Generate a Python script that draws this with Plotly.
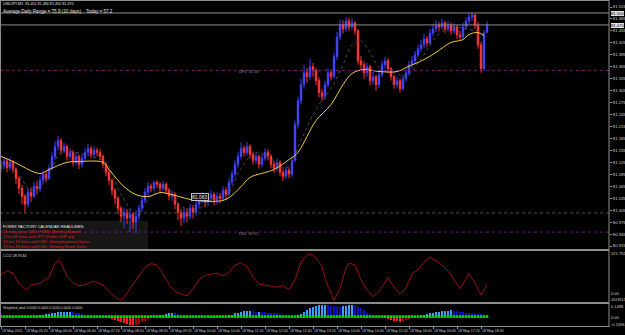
import plotly.graph_objects as go

# ---------------- data ----------------
bars = list(range(163))  # M5 bars, 18 May 2011 04:40 .. 18:10

opens = [81.110,81.118,81.128,81.112,81.125,81.108,81.085,81.060,81.040,81.020,
         81.050,81.040,81.065,81.058,81.080,81.095,81.085,81.110,81.140,81.165,
         81.180,81.155,81.165,81.140,81.150,81.125,81.140,81.120,81.135,81.150,
         81.160,81.145,81.155,81.150,81.140,81.120,81.100,81.080,81.055,81.035,
         81.010,80.990,81.000,80.985,80.995,80.975,80.990,81.010,81.030,81.050,
         81.065,81.060,81.075,81.070,81.060,81.070,81.055,81.040,81.045,81.020,
         81.000,80.985,81.000,80.990,81.010,81.000,81.020,81.030,81.040,81.025,
         81.035,81.045,81.030,81.040,81.035,81.055,81.045,81.075,81.095,81.120,
         81.140,81.160,81.150,81.165,81.145,81.130,81.140,81.120,81.135,81.150,
         81.140,81.120,81.110,81.125,81.100,81.090,81.105,81.095,81.130,81.220,
         81.280,81.320,81.350,81.340,81.365,81.355,81.330,81.300,81.290,81.320,
         81.350,81.340,81.390,81.440,81.470,81.460,81.480,81.465,81.475,81.455,
         81.380,81.370,81.350,81.365,81.330,81.340,81.320,81.345,81.370,81.380,
         81.360,81.340,81.320,81.330,81.310,81.335,81.350,81.370,81.380,81.395,
         81.410,81.420,81.435,81.425,81.450,81.460,81.470,81.465,81.475,81.460,
         81.470,81.455,81.465,81.445,81.440,81.465,81.480,81.490,81.495,81.470,
         81.420,81.360,81.451]
closes = [81.118,81.128,81.112,81.125,81.108,81.085,81.060,81.040,81.020,81.050,
          81.040,81.065,81.058,81.080,81.095,81.085,81.110,81.140,81.165,81.180,
          81.155,81.165,81.140,81.150,81.125,81.140,81.120,81.135,81.150,81.160,
          81.145,81.155,81.150,81.140,81.120,81.100,81.080,81.055,81.035,81.010,
          80.990,81.000,80.985,80.995,80.975,80.990,81.010,81.030,81.050,81.065,
          81.060,81.075,81.070,81.060,81.070,81.055,81.040,81.045,81.020,81.000,
          80.985,81.000,80.990,81.010,81.000,81.020,81.030,81.040,81.025,81.035,
          81.045,81.030,81.040,81.035,81.055,81.045,81.075,81.095,81.120,81.140,
          81.160,81.150,81.165,81.145,81.130,81.140,81.120,81.135,81.150,81.140,
          81.120,81.110,81.125,81.100,81.090,81.105,81.095,81.130,81.220,81.280,
          81.320,81.350,81.340,81.365,81.355,81.330,81.300,81.290,81.320,81.350,
          81.340,81.390,81.440,81.470,81.460,81.480,81.465,81.475,81.455,81.380,
          81.370,81.350,81.365,81.330,81.340,81.320,81.345,81.370,81.380,81.360,
          81.340,81.320,81.330,81.310,81.335,81.350,81.370,81.380,81.395,81.410,
          81.420,81.435,81.425,81.450,81.460,81.470,81.465,81.475,81.460,81.470,
          81.455,81.465,81.445,81.440,81.465,81.480,81.490,81.495,81.470,81.420,
          81.360,81.450,81.470]
highs = [81.130,81.140,81.135,81.138,81.130,81.112,81.090,81.068,81.045,81.060,
         81.062,81.075,81.078,81.090,81.105,81.102,81.120,81.150,81.178,81.192,
         81.186,81.175,81.170,81.160,81.156,81.150,81.145,81.145,81.160,81.172,
         81.166,81.165,81.162,81.158,81.145,81.125,81.108,81.085,81.060,81.040,
         81.015,81.012,81.008,81.010,81.000,81.005,81.020,81.040,81.060,81.075,
         81.072,81.078,81.080,81.076,81.078,81.075,81.060,81.055,81.050,81.025,
         81.008,81.012,81.010,81.020,81.018,81.030,81.040,81.050,81.045,81.045,
         81.055,81.050,81.050,81.048,81.065,81.062,81.085,81.105,81.130,81.150,
         81.175,81.168,81.176,81.170,81.152,81.150,81.145,81.145,81.160,81.158,
         81.146,81.128,81.135,81.130,81.108,81.115,81.112,81.140,81.230,81.290,
         81.335,81.370,81.362,81.385,81.375,81.362,81.338,81.310,81.330,81.362,
         81.358,81.400,81.452,81.484,81.482,81.490,81.488,81.486,81.480,81.460,
         81.392,81.378,81.375,81.370,81.352,81.345,81.355,81.380,81.390,81.386,
         81.365,81.345,81.340,81.335,81.345,81.360,81.380,81.392,81.405,81.420,
         81.432,81.448,81.442,81.460,81.472,81.482,81.478,81.486,81.480,81.480,
         81.476,81.474,81.470,81.455,81.475,81.490,81.500,81.502,81.498,81.478,
         81.428,81.458,81.480]
lows = [81.100,81.108,81.100,81.105,81.098,81.070,81.045,81.020,80.998,81.012,
        81.025,81.035,81.045,81.050,81.072,81.075,81.080,81.105,81.132,81.155,
        81.145,81.148,81.130,81.132,81.115,81.118,81.108,81.112,81.128,81.142,
        81.135,81.138,81.140,81.130,81.110,81.090,81.068,81.042,81.020,80.995,
        80.975,80.960,80.970,80.950,80.958,80.948,80.980,81.000,81.022,81.040,
        81.050,81.052,81.060,81.050,81.052,81.045,81.030,81.028,81.008,80.980,
        80.965,80.972,80.975,80.982,80.985,80.992,81.010,81.022,81.012,81.015,
        81.028,81.018,81.020,81.022,81.028,81.032,81.040,81.068,81.088,81.112,
        81.132,81.140,81.142,81.135,81.120,81.122,81.110,81.112,81.128,81.130,
        81.110,81.098,81.102,81.090,81.078,81.082,81.085,81.088,81.125,81.210,
        81.270,81.310,81.325,81.332,81.340,81.318,81.288,81.278,81.282,81.312,
        81.330,81.335,81.382,81.432,81.448,81.452,81.455,81.458,81.445,81.370,
        81.355,81.335,81.340,81.318,81.320,81.305,81.312,81.338,81.360,81.350,
        81.330,81.310,81.312,81.300,81.305,81.328,81.342,81.362,81.372,81.388,
        81.402,81.412,81.415,81.418,81.442,81.452,81.455,81.458,81.450,81.452,
        81.445,81.448,81.435,81.432,81.435,81.458,81.472,81.480,81.460,81.410,
        81.350,81.355,81.450]

# yellow moving average (read at selected bars)
ma_idx = [0,4,13,16,22,26,34,36,41,45,49,53,57,63,69,75,80,83,91,96,99,102,105,
          110,114,117,121,126,132,135,141,145,150,154,156,159,161]
ma_val = [81.140,81.127,81.097,81.107,81.125,81.127,81.125,81.107,81.064,81.044,
          81.039,81.049,81.044,81.032,81.027,81.032,81.064,81.087,81.107,81.132,
          81.150,81.190,81.230,81.270,81.320,81.348,81.358,81.353,81.353,81.363,
          81.383,81.401,81.426,81.433,81.446,81.451,81.443]

# grey dotted fast moving average (read at selected bars)
fma_idx = [0,5,10,15,20,25,30,35,40,45,50,55,60,65,70,75,80,85,90,95,100,103,106,
           110,114,117,120,123,127,131,135,140,145,150,155,160,162]
fma_val = [81.125,81.105,81.055,81.080,81.150,81.150,81.140,81.125,81.045,80.995,
           81.040,81.065,81.015,81.005,81.030,81.040,81.110,81.150,81.135,81.110,
           81.180,81.230,81.270,81.310,81.370,81.420,81.430,81.400,81.355,81.350,
           81.340,81.385,81.440,81.465,81.460,81.450,81.440]

# CCI line (read at selected bars)
cci_idx = [0,2,4,6,8,9,10,13,16,18,19,20,22,24,26,28,30,31,34,36,38,40,42,44,46,48,
           50,52,54,56,58,60,62,64,66,68,70,72,74,76,78,80,82,84,86,88,90,92,94,96,
           98,100,102,103,105,107,108,110,111,113,115,116,118,120,122,124,126,129,
           131,133,135,137,139,141,143,145,147,149,151,153,156,158,160,162]
cci_val = [-25,0,-15,-85,-125,-120,-95,-85,-40,50,70,55,-35,-80,-100,-95,-75,-68,
           -95,-140,-175,-200,-150,-90,-30,25,50,40,-20,-90,-140,-155,-170,-120,
           -60,-30,-25,-15,-35,-10,40,55,30,-40,-90,-95,-105,-110,-100,-125,-60,60,
           105,115,90,30,-50,-150,-200,-120,20,54,40,-60,-130,-175,-140,-45,-110,
           -155,-115,-20,10,60,95,70,40,0,-60,-120,-20,-80,-165,-95]

# histogram oscillator (one value per bar)
hist = ([0]*13 +
        [0.01,0.02,0.03,0.035,0.045,0.05,0.055,0.055,0.06,0.06,0.062,0.055,0.05,0.045,0.035,0.02,0.01] +
        [0]*6 +
        [-0.01,-0.025,-0.04,-0.055,-0.07,-0.08,-0.09,-0.1,-0.105,-0.1,-0.09,-0.07,-0.05,-0.03,-0.015] +
        [0]*2 +
        [0.01,0.025,0.035,0.04,0.045,0.04,0.03,0.02,0.01] +
        [0]*7 + [-0.005,-0.01,-0.01,-0.005] + [0]*3 +
        [0.01,0.025,0.04,0.05,0.06,0.065,0.07,0.07,0.068,0.06,0.062,0.058,0.055,0.05,0.048,0.045,0.04,0.03,0.02] +
        [0]*4 +
        [0.01,0.03,0.06,0.085,0.105,0.12,0.13,0.14,0.145,0.148,0.14,0.13,0.125,0.12,0.118,0.125,0.135,0.14,0.145,0.14,0.12,0.1,0.08,0.05,0.03,0.01] +
        [0]*3 +
        [-0.01,-0.025,-0.04,-0.05,-0.058,-0.062,-0.055,-0.045,-0.035,-0.02,-0.01] +
        [0] +
        [0.01,0.02,0.03,0.04,0.05,0.055,0.06,0.065,0.07,0.073,0.075,0.07,0.065,0.06,0.055,0.05,0.048,0.045,0.04,0.035,0.03,0.025,0.02])

price_ticks = [81.515,81.485,81.455,81.425,81.395,81.365,81.335,81.305,81.275,81.245,
               81.215,81.185,81.155,81.125,81.095,81.065,81.035,81.005,80.975,80.945,80.915]
time_tick_bars = list(range(0, 161, 8))
time_labels = ["18 May 2011","18 May 05:20","18 May 06:00","18 May 06:40","18 May 07:20",
               "18 May 08:00","18 May 08:40","18 May 09:20","18 May 10:00","18 May 10:40",
               "18 May 11:20","18 May 12:00","18 May 12:40","18 May 13:20","18 May 14:00",
               "18 May 14:40","18 May 15:20","18 May 16:00","18 May 16:40","18 May 17:20",
               "18 May 18:00"]

high_line = 81.500
bid_line = 81.470
pivot = 81.356
s1 = 80.950
mid_line = 80.998

ff_lines = ["11 mins since USD: FOMC Meeting Minutes",
            "2 hrs 39 mins until JPY: Prelim GDP q/q",
            "16 hrs 19 mins until USD: Unemployment Claims",
            "19 hrs 49 mins until USD: Existing Home Sales"]

# ---------------- layout helpers ----------------
W, H = 625, 335
XR = 609
FONT = "Liberation Sans"
def X(px): return px / W
def Y(py): return 1 - py / H

x_lo = (0 - 1) / 3.0
x_hi = (XR - 1) / 3.0
s = 0.6 / 239.0
p_top = 81.515 + 6 * s
p_bot = 80.915 - 3 * s

fig = go.Figure()

fig.add_trace(go.Candlestick(
    x=bars, open=opens, high=highs, low=lows, close=closes,
    increasing=dict(line=dict(color="#3c3cff", width=1), fillcolor="#8080ff"),
    decreasing=dict(line=dict(color="#ff3030", width=1), fillcolor="#ff7070"),
    whiskerwidth=0, xaxis="x", yaxis="y", hoverinfo="skip", showlegend=False))

fig.add_trace(go.Scatter(x=fma_idx, y=fma_val, mode="lines", line=dict(color="#4a4a4a", width=1, dash="dot", shape="spline"),
                         xaxis="x", yaxis="y", hoverinfo="skip", showlegend=False))
fig.add_trace(go.Scatter(x=ma_idx, y=ma_val, mode="lines", line=dict(color="#f0c840", width=1, shape="spline"),
                         xaxis="x", yaxis="y", hoverinfo="skip", showlegend=False))

fig.add_trace(go.Scatter(x=cci_idx, y=cci_val, mode="lines", line=dict(color="#9a1010", width=1),
                         xaxis="x", yaxis="y2", hoverinfo="skip", showlegend=False))

hcol = []
prev = 0
for v in hist:
    if v > 0:
        hcol.append("#3aa0ff" if v >= prev else "#1010c8")
    elif v < 0:
        hcol.append("#ff2020" if v <= prev else "#a00000")
    else:
        hcol.append("#000000")
    prev = v
fig.add_trace(go.Bar(x=bars, y=hist, marker=dict(color=hcol, line=dict(width=0)), width=0.75,
                     xaxis="x", yaxis="y3", hoverinfo="skip", showlegend=False))
fig.add_trace(go.Scatter(x=bars, y=[0]*len(bars), mode="markers",
                         marker=dict(symbol="square", size=2.6, color="#00e000", line=dict(width=0)),
                         xaxis="x", yaxis="y3", hoverinfo="skip", showlegend=False))

axis_common = dict(showgrid=False, zeroline=False, fixedrange=True)
fig.update_layout(
    width=W, height=H, margin=dict(l=0, r=0, t=0, b=0),
    paper_bgcolor="#000000", plot_bgcolor="#000000",
    showlegend=False, bargap=0,
    xaxis=dict(domain=[0, X(XR)], range=[x_lo, x_hi], anchor="y3", showticklabels=False,
               ticks="outside", ticklen=2, tickcolor="#909090", tickvals=time_tick_bars,
               showline=False, rangeslider=dict(visible=False), **axis_common),
    yaxis=dict(domain=[Y(249), Y(1)], range=[p_bot, p_top], side="right", anchor="x",
               tickvals=price_ticks, ticktext=["%.3f" % v for v in price_ticks],
               ticks="outside", ticklen=2, tickcolor="#909090",
               tickfont=dict(family=FONT, size=4.2, color="#d0d0d0"), automargin=False, **axis_common),
    yaxis2=dict(domain=[Y(302), Y(251)], range=[-210.59, 135.36], side="right", anchor="x",
                showticklabels=False, **axis_common),
    yaxis3=dict(domain=[Y(326), Y(304)], range=[-0.1096 - 0.006, 0.1488 + 0.006], side="right", anchor="x",
                showticklabels=False, **axis_common),
)

shapes = []
def hline(yval, yref, color, dash="solid", width=1):
    shapes.append(dict(type="line", xref="paper", x0=0, x1=X(XR), yref=yref, y0=yval, y1=yval,
                       line=dict(color=color, width=width, dash=dash)))
hline(high_line, "y", "#8c8c8c")
hline(bid_line, "y", "#8c8c8c")
hline(pivot, "y", "#7a1a7a", "dot")
hline(mid_line, "y", "#4a5a3a", "dot")
hline(s1, "y", "#6a1a6a", "dot")
# pane frames / separators
for py_, w_ in [(0.5, 1), (250, 2), (303, 2), (326.5, 1)]:
    shapes.append(dict(type="line", xref="paper", yref="paper", x0=0, x1=X(XR), y0=Y(py_), y1=Y(py_),
                       line=dict(color="#8c8c8c", width=w_)))
shapes.append(dict(type="line", xref="paper", yref="paper", x0=X(XR), x1=X(XR), y0=Y(327), y1=Y(0),
                   line=dict(color="#8c8c8c", width=1)))
shapes.append(dict(type="line", xref="paper", yref="paper", x0=X(0.5), x1=X(0.5), y0=Y(327), y1=Y(0),
                   line=dict(color="#8c8c8c", width=1)))
# forex factory box
shapes.append(dict(type="rect", xref="paper", yref="paper", x0=X(1), x1=X(148), y0=Y(249), y1=Y(221),
                   fillcolor="#161616", line=dict(width=0), layer="below"))
fig.update_layout(shapes=shapes)

def txt(px, py, s_, size=4.2, color="#d0d0d0", anchor="left", bg=None, border=None):
    fig.add_annotation(x=X(px), y=Y(py), xref="paper", yref="paper", text=s_, showarrow=False,
                       xanchor=anchor, yanchor="middle", font=dict(family=FONT, size=size, color=color),
                       bgcolor=bg, bordercolor=border, borderwidth=1 if border else 0, borderpad=0)

txt(3, 4.5, "USDJPY,M5  81.451 81.480 81.450 81.470", size=3.7, color="#e0e0e0")
txt(3, 11, "Average Daily Range = 75.9 (10 days)    Today = 57.2", size=4.6, color="#e0e0e0")

txt(239, 72, "DPV  81.36", size=3.8, color="#909090")
txt(239, 233.5, "DS1  80.95", size=3.8, color="#909090")
txt(200, 197, "81.063", size=5, color="#e0e0e0", anchor="center", bg="#101010", border="#c0c0c0")

txt(3, 226, "FOREX FACTORY CALENDAR HEADLINES:", size=4.0, color="#e8e8e8")
for k, line in enumerate(ff_lines):
    txt(3, 231.5 + 5 * k, line, size=4.0, color="#e02020")

# highlighted axis labels
txt(611, 14, "81.500", size=4.2, color="#000000", bg="#e0e0e0")
txt(611, 25.5, "81.470", size=4.2, color="#000000", bg="#e0e0e0")

# sub-window labels
txt(3, 256, "CCI2 28.9534", size=3.8, color="#d0d0d0")
txt(611, 254, "121.792", size=4.0)
txt(611, 293, "0.00", size=4.0)
txt(610, 300, "-203.8112", size=3.4)
txt(3, 307.5, "Weighted_dark 0.0000 0.0000 0.0100 0.0000 0.0000", size=3.4, color="#d0d0d0")
txt(611, 306, "0.1488", size=4.0)
txt(611, 317, "0.00", size=4.0)
txt(611, 324, "-0.1096", size=4.0)

for b, lab in zip(time_tick_bars, time_labels):
    txt(1 + 3 * b + 1, 331, lab, size=3.6, color="#d0d0d0")

fig.write_html("out.html")
